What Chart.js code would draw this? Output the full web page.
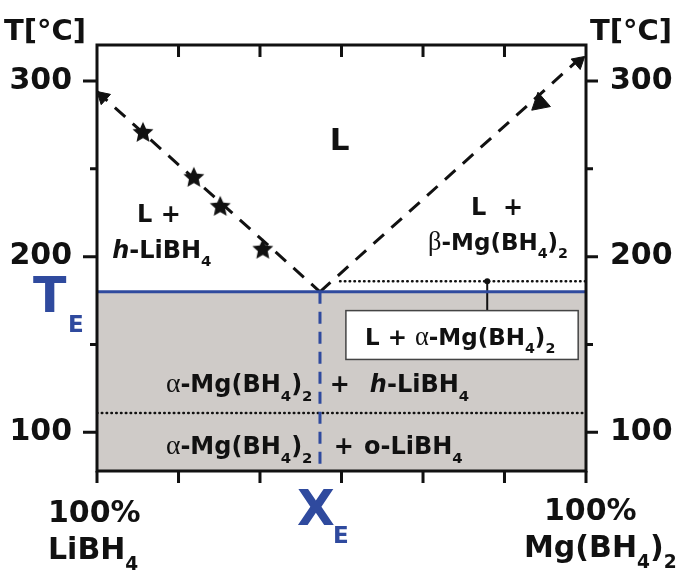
<!DOCTYPE html>
<html>
<head>
<meta charset="utf-8">
<script src="https://cdn.jsdelivr.net/npm/chart.js@4.4.1/dist/chart.umd.min.js"></script>
<style>
  html, body { margin: 0; padding: 0; background: #fff; }
  #wrap { width: 678px; height: 574px; }
</style>
</head>
<body>
<div id="wrap"><canvas id="chart" width="678" height="574"></canvas></div>
<script>
// LiBH4 - Mg(BH4)2 phase diagram
// x = mol% Mg(BH4)2, y = temperature in °C

const compTicks = [0, 16.67, 33.33, 50, 66.67, 83.33, 100];
const tempMajor = [100, 200, 300];
const tempMinor = [150, 250];

const eutecticX = 45.6;
const eutecticT = 180;
const transitionT = 111;   // o-LiBH4 -> h-LiBH4
const upperDotT = 186;     // dotted line on the Mg side
const upperDotX = [49.7, 100];
const boxTopT = 169.3;

// liquidus lines
const liqLeftX = [0, eutecticX];
const liqLeftT = [294, eutecticT];
const liqRightX = [eutecticX, 99.6];
const liqRightT = [eutecticT, 315];

// measured points
const starX = [9.4, 19.8, 25.2, 33.9];
const starT = [270.5, 244.9, 228.4, 204];
const triX = [90.6];
const triT = [287.5];
const arrowX = [1.2, 98.5];
const arrowT = [291, 311];

const BLUE = "#2f4a9e";
const INK = "#111";
const GREY = "#cfcbc8";

const pts = (xs, ys) => xs.map((x, i) => ({ x: x, y: ys[i] }));

// filled five point star for the markers
function makeStar(r) {
  const c = document.createElement("canvas");
  c.width = c.height = r * 2 + 2;
  const g = c.getContext("2d");
  g.translate(r + 1, r + 1);
  g.beginPath();
  for (let i = 0; i < 10; i++) {
    const rr = i % 2 ? r * 0.47 : r;
    const a = -Math.PI / 2 + i * Math.PI / 5;
    g.lineTo(rr * Math.cos(a), rr * Math.sin(a));
  }
  g.closePath();
  g.fillStyle = INK;
  g.fill();
  return c;
}
const star = makeStar(11);

// text with _x subscripts and *italic* parts
function rich(ctx, str, x, y, size, color) {
  let italic = false;
  ctx.fillStyle = color;
  ctx.textBaseline = "alphabetic";
  ctx.textAlign = "left";
  for (let i = 0; i < str.length; i++) {
    let ch = str[i];
    if (ch === "*") { italic = !italic; continue; }
    let sub = false;
    if (ch === "_") { sub = true; ch = str[++i]; }
    let s = sub ? size * 0.62 : size;
    let fam = '"DejaVu Sans", sans-serif';
    let w = "bold ";
    if (ch === "α" || ch === "β") { fam = '"Liberation Serif", serif'; s = s * 1.15; w = ""; }
    ctx.font = (italic ? "italic " : "") + w + s + "px " + fam;
    ctx.fillText(ch, x, y + (sub ? size * 0.35 : 0));
    x += ctx.measureText(ch).width;
  }
}

// region labels, placed in data units
const labels = [
  ["L", 47.6, 260.8, 31],
  ["L +", 8.2, 219.9, 24],
  ["*h*-LiBH_4", 3.1, 199.4, 24],
  ["L  +", 76.5, 223.9, 24],
  ["β-Mg(BH_4)_2", 67.7, 204, 23],
  ["L + α-Mg(BH_4)_2", 54.8, 150, 23],
  ["α-Mg(BH_4)_2", 14.1, 122.7, 24],
  ["+", 47.6, 122.7, 24],
  ["*h*-LiBH_4", 55.8, 122.7, 24],
  ["α-Mg(BH_4)_2", 14.1, 87.5, 24],
  ["+", 48.4, 87.5, 24],
  ["o-LiBH_4", 54.6, 87.5, 24],
];

const decor = {
  id: "decor",
  afterDatasetsDraw(chart) {
    const { ctx, scales } = chart;
    const X = (v) => scales.x.getPixelForValue(v);
    const Y = (v) => scales.y.getPixelForValue(v);
    ctx.save();
    // white box for L + alpha
    const bx = X(50.9), by = Y(boxTopT);
    ctx.fillStyle = "#fff";
    ctx.strokeStyle = "#444";
    ctx.lineWidth = 1.5;
    ctx.fillRect(bx, by, X(98.4) - bx, Y(141.5) - by);
    ctx.strokeRect(bx, by, X(98.4) - bx, Y(141.5) - by);
    labels.forEach((l) => rich(ctx, l[0], X(l[1]), Y(l[2]), l[3], INK));
    ctx.restore();
  },
  afterDraw(chart) {
    const { ctx, scales, chartArea: a } = chart;
    const X = (v) => scales.x.getPixelForValue(v);
    const Y = (v) => scales.y.getPixelForValue(v);
    ctx.save();
    ctx.strokeStyle = INK;
    ctx.lineWidth = 3;
    ctx.strokeRect(a.left, a.top, a.right - a.left, a.bottom - a.top);
    ctx.beginPath();
    compTicks.forEach((v) => {
      const px = X(v);
      ctx.moveTo(px, a.bottom); ctx.lineTo(px, a.bottom + 12);
      if (v > 0 && v < 100) { ctx.moveTo(px, a.top); ctx.lineTo(px, a.top + 12); }
    });
    tempMajor.forEach((v) => {
      const py = Y(v);
      ctx.moveTo(a.left - 14, py); ctx.lineTo(a.left, py);
      ctx.moveTo(a.right, py); ctx.lineTo(a.right + 12, py);
    });
    tempMinor.forEach((v) => {
      const py = Y(v);
      ctx.moveTo(a.left - 7, py); ctx.lineTo(a.left, py);
      ctx.moveTo(a.right, py); ctx.lineTo(a.right + 7, py);
    });
    ctx.stroke();

    // axis titles and end labels
    rich(ctx, "T[°C]", 4, 40, 29, INK);
    rich(ctx, "T[°C]", 590, 40, 29, INK);
    rich(ctx, "100%", 48, 522, 30, INK);
    rich(ctx, "LiBH_4", 48, 559, 30, INK);
    rich(ctx, "100%", 544, 520, 30, INK);
    rich(ctx, "Mg(BH_4)_2", 524, 557, 30, INK);
    // eutectic markers
    rich(ctx, "T", 33, Y(eutecticT) + 20, 49, BLUE);
    rich(ctx, "E", 68, Y(eutecticT) + 40, 23, BLUE);
    rich(ctx, "X", X(eutecticX) - 23, 525, 49, BLUE);
    rich(ctx, "E", X(eutecticX) + 13, 543, 23, BLUE);
    ctx.restore();
  },
};

const yTicks = (pad) => ({
  stepSize: 50,
  includeBounds: false,
  autoSkip: false,
  padding: pad,
  color: INK,
  font: { family: "DejaVu Sans", weight: "bold", size: 30 },
  callback: (v) => (v % 100 === 0 ? String(v) : ""),
});

new Chart(document.getElementById("chart"), {
  type: "scatter",
  data: {
    datasets: [
      {
        // eutectic horizontal, grey solid region below it
        data: pts([0, 100], [eutecticT, eutecticT]),
        showLine: true, borderColor: BLUE, borderWidth: 3, pointRadius: 0,
        fill: "start", backgroundColor: GREY,
      },
      {
        data: pts([eutecticX, eutecticX], [eutecticT, 78]),
        showLine: true, borderColor: BLUE, borderWidth: 3, pointRadius: 0,
        borderDash: [12, 8],
      },
      {
        data: pts([0, 100], [transitionT, transitionT]),
        showLine: true, borderColor: INK, borderWidth: 2.5, pointRadius: 0,
        borderDash: [0.5, 4.3], borderCapStyle: "round",
      },
      {
        data: pts(upperDotX, [upperDotT, upperDotT]),
        showLine: true, borderColor: INK, borderWidth: 2.5, pointRadius: 0,
        borderDash: [0.5, 4.3], borderCapStyle: "round",
      },
      {
        data: pts([79.8, 79.8], [upperDotT, boxTopT]),
        showLine: true, borderColor: INK, borderWidth: 2, pointRadius: [3, 0],
        pointBackgroundColor: INK, pointBorderWidth: 0,
      },
      {
        data: pts(liqLeftX, liqLeftT),
        showLine: true, borderColor: INK, borderWidth: 3, pointRadius: 0,
        borderDash: [14, 10],
      },
      {
        data: pts(liqRightX, liqRightT),
        showLine: true, borderColor: INK, borderWidth: 3, pointRadius: 0,
        borderDash: [14, 10],
      },
      {
        data: pts(starX, starT),
        pointStyle: star, pointRadius: 11,
      },
      {
        data: pts(triX, triT),
        pointStyle: "triangle", pointRadius: 11, pointRotation: 229,
        pointBackgroundColor: INK, pointBorderColor: INK,
      },
      {
        data: pts(arrowX, arrowT),
        pointStyle: "triangle", pointRadius: 8, pointRotation: [-48, 49],
        pointBackgroundColor: INK, pointBorderColor: INK, clip: false,
      },
    ],
  },
  plugins: [decor],
  options: {
    responsive: false,
    animation: false,
    events: [],
    layout: { padding: { top: 45, left: 0, right: 0, bottom: 0 } },
    plugins: {
      legend: { display: false },
      tooltip: { enabled: false },
      filler: { drawTime: "beforeDatasetsDraw" },
    },
    scales: {
      x: {
        type: "linear", min: 0, max: 100,
        ticks: { display: false },
        grid: { display: false, drawTicks: false },
        border: { display: false },
        afterFit: (s) => { s.height = 103; },
      },
      y: {
        position: "left", min: 78, max: 320.5,
        ticks: yTicks(25),
        grid: { display: false, drawTicks: false },
        border: { display: false },
        afterFit: (s) => { s.width = 97; },
      },
      y2: {
        position: "right", min: 78, max: 320.5,
        ticks: yTicks(24),
        grid: { display: false, drawTicks: false },
        border: { display: false },
        afterFit: (s) => { s.width = 92; },
      },
    },
  },
});
</script>
</body>
</html>
